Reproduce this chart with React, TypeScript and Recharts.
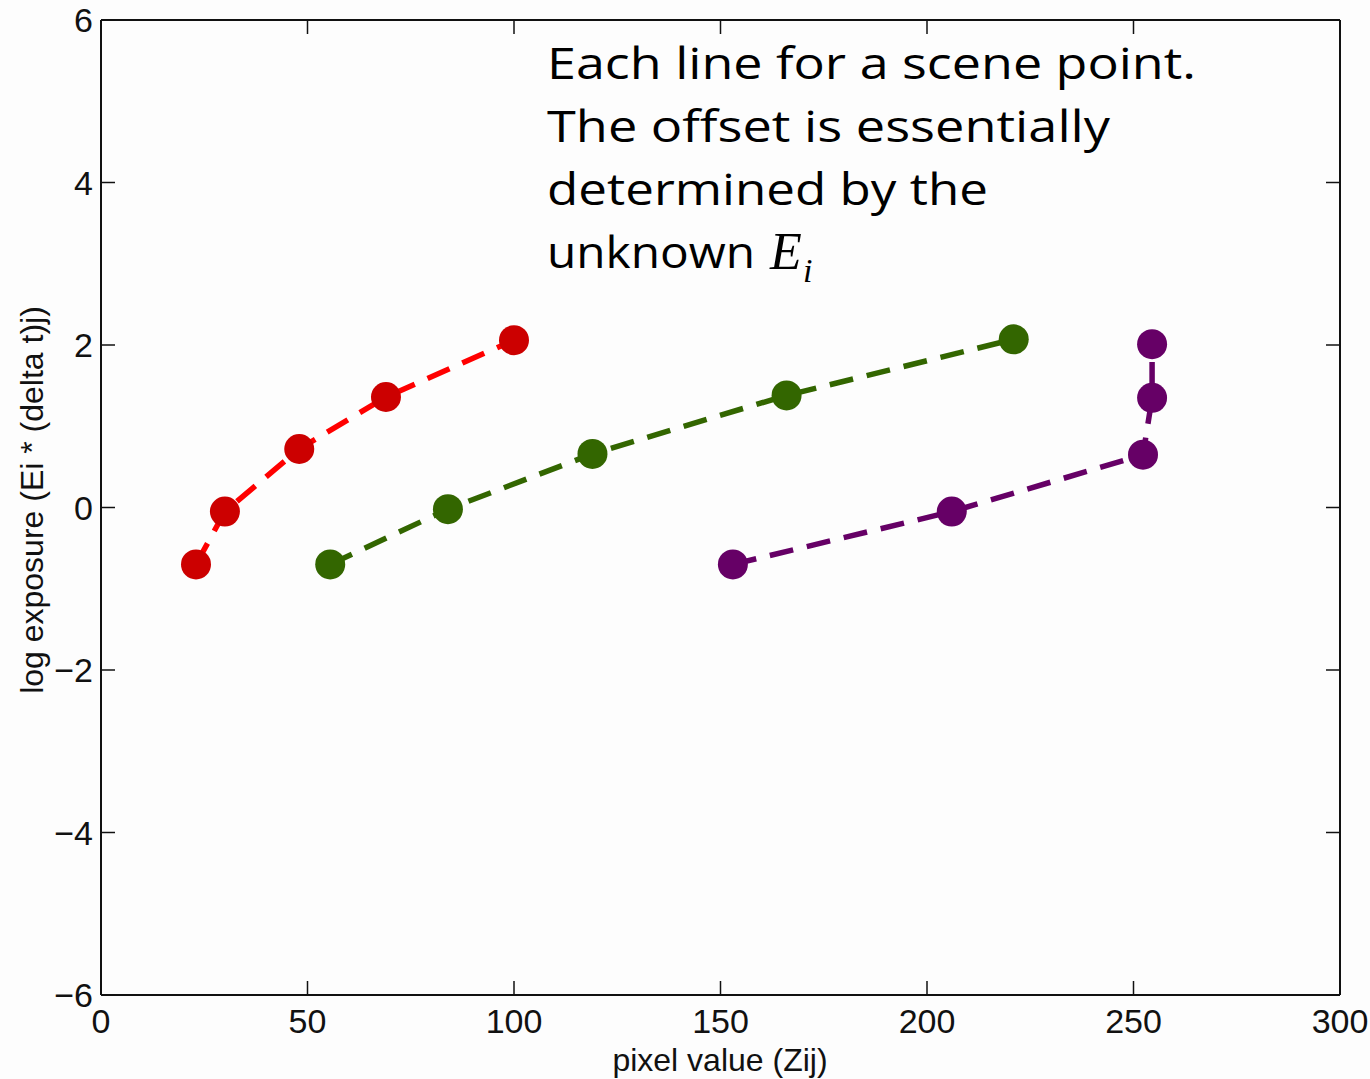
import React from "react";
import { LineChart, Line, XAxis, YAxis } from "recharts";

// pixel value (Zij) vs log exposure, one line per scene point
const redX = [23, 30, 48, 69, 100];
const redY = [-0.7, -0.05, 0.72, 1.36, 2.06];
const greenX = [55.5, 84, 119, 166, 221];
const greenY = [-0.7, -0.02, 0.66, 1.38, 2.07];
const purpleX = [153, 206, 252.3, 254.5, 254.5];
const purpleY = [-0.7, -0.05, 0.65, 1.35, 2.01];

const xTicks = [0, 50, 100, 150, 200, 250, 300];
const yTicks = [-6, -4, -2, 0, 2, 4, 6];

const toPoints = (xs: number[], ys: number[]) => xs.map((x, i) => ({ x, y: ys[i] }));

const series = [
  { name: "red", data: toPoints(redX, redY), line: "#ff0000", dot: "#cc0000" },
  { name: "green", data: toPoints(greenX, greenY), line: "#336600", dot: "#336600" },
  { name: "purple", data: toPoints(purpleX, purpleY), line: "#660066", dot: "#660066" },
];

const AXIS_FONT = "'Liberation Sans', Arial, sans-serif";
const TICK_LEN = 13;
const fmt = (v: number) => (v < 0 ? "\u2212" + Math.abs(v) : String(v));

function BottomTick({ x, y, payload }: any) {
  return (
    <g>
      <line x1={x} x2={x} y1={y - 1} y2={y - 1 - TICK_LEN} stroke="#111" strokeWidth={1.5} />
      <text x={x} y={y + 38} textAnchor="middle" fontSize={34} fontFamily={AXIS_FONT} fill="#111">
        {fmt(payload.value)}
      </text>
    </g>
  );
}

function TopTick({ x, y }: any) {
  return <line x1={x} x2={x} y1={y + 1} y2={y + 1 + TICK_LEN} stroke="#111" strokeWidth={1.5} />;
}

function LeftTick({ x, y, payload }: any) {
  return (
    <g>
      <line x1={x + 1} x2={x + 1 + TICK_LEN} y1={y} y2={y} stroke="#111" strokeWidth={1.5} />
      <text x={x - 8} y={y + 12} textAnchor="end" fontSize={34} fontFamily={AXIS_FONT} fill="#111">
        {fmt(payload.value)}
      </text>
    </g>
  );
}

function RightTick({ x, y }: any) {
  return <line x1={x - 1} x2={x - 1 - TICK_LEN} y1={y} y2={y} stroke="#111" strokeWidth={1.5} />;
}

export default function App() {
  return (
    <div style={{ position: "absolute", left: 0, top: 0, width: 1370, height: 1079, background: "#fdfdfd" }}>
      <LineChart width={1370} height={1079} margin={{ top: 19, right: 29, bottom: 83, left: 100 }}>
        <XAxis
          xAxisId="b"
          dataKey="x"
          type="number"
          domain={[0, 300]}
          ticks={xTicks}
          allowDataOverflow
          height={1}
          tickSize={0}
          tickMargin={0}
          axisLine={{ stroke: "#111", strokeWidth: 2 }}
          tick={<BottomTick />}
          interval={0}
        />
        <XAxis
          xAxisId="t"
          orientation="top"
          dataKey="x"
          type="number"
          domain={[0, 300]}
          ticks={xTicks}
          allowDataOverflow
          height={1}
          tickSize={0}
          tickMargin={0}
          axisLine={{ stroke: "#111", strokeWidth: 2 }}
          tick={<TopTick />}
          interval={0}
        />
        <YAxis
          yAxisId="l"
          type="number"
          domain={[-6, 6]}
          ticks={yTicks}
          allowDataOverflow
          width={1}
          tickSize={0}
          tickMargin={0}
          axisLine={{ stroke: "#111", strokeWidth: 2 }}
          tick={<LeftTick />}
          interval={0}
        />
        <YAxis
          yAxisId="r"
          orientation="right"
          type="number"
          domain={[-6, 6]}
          ticks={yTicks}
          allowDataOverflow
          width={1}
          tickSize={0}
          tickMargin={0}
          axisLine={{ stroke: "#111", strokeWidth: 2 }}
          tick={<RightTick />}
          interval={0}
        />
        {series.map((s) => (
          <Line
            key={s.name}
            data={s.data}
            dataKey="y"
            xAxisId="b"
            yAxisId="l"
            type="linear"
            stroke={s.line}
            strokeWidth={5.5}
            strokeDasharray="24 14"
            dot={{ r: 15, fill: s.dot, stroke: "none", strokeDasharray: "" }}
            activeDot={false}
            isAnimationActive={false}
          />
        ))}
      </LineChart>

      <svg
        width={1370}
        height={1079}
        style={{ position: "absolute", left: 0, top: 0, pointerEvents: "none" }}
      >
        <text x={720} y={1071} textAnchor="middle" fontSize={32} fontFamily={AXIS_FONT} fill="#111">
          pixel value (Zij)
        </text>
        <text
          transform="translate(43, 500) rotate(-90)"
          textAnchor="middle"
          fontSize={32}
          fontFamily={AXIS_FONT}
          fill="#111"
        >
          log exposure (Ei * (delta t)j)
        </text>

        <g fontFamily="'Open Sans', 'Noto Sans', sans-serif" fontSize={44} fill="#000">
          <text x={547} y={79} textLength={649} lengthAdjust="spacingAndGlyphs">
            Each line for a scene point.
          </text>
          <text x={547} y={142} textLength={563} lengthAdjust="spacingAndGlyphs">
            The offset is essentially
          </text>
          <text x={547} y={205} textLength={441} lengthAdjust="spacingAndGlyphs">
            determined by the
          </text>
          <text x={547} y={268} textLength={208} lengthAdjust="spacingAndGlyphs">
            unknown
          </text>
        </g>
        <text
          x={770}
          y={269}
          fontSize={52}
          fontStyle="italic"
          fontFamily="'Liberation Serif', 'Times New Roman', serif"
          fill="#000"
        >
          E
        </text>
        <text
          x={803}
          y={282}
          fontSize={34}
          fontStyle="italic"
          fontFamily="'Liberation Serif', 'Times New Roman', serif"
          fill="#000"
        >
          i
        </text>
      </svg>
    </div>
  );
}
